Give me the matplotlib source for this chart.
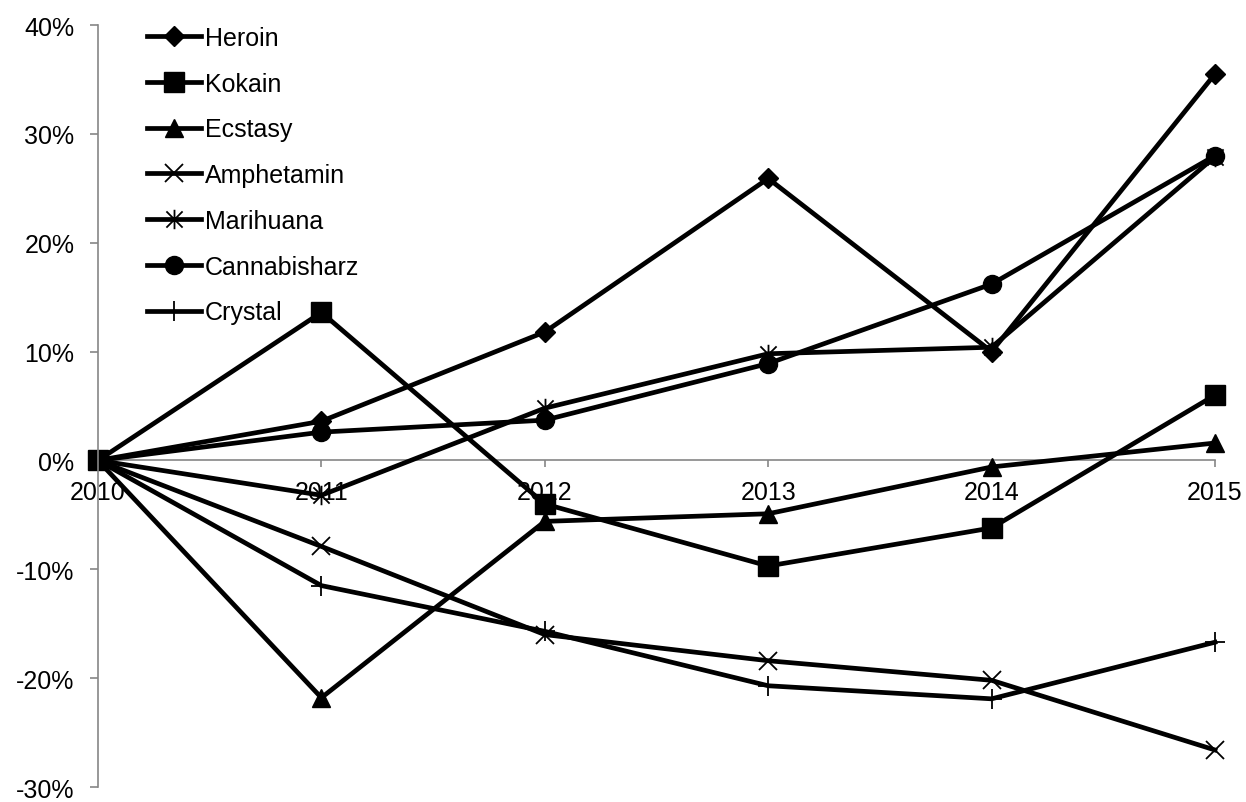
import matplotlib
matplotlib.use("Agg")
import matplotlib.pyplot as plt
from matplotlib.path import Path
from matplotlib.ticker import FuncFormatter

years = [2010, 2011, 2012, 2013, 2014, 2015]
series_names = ["Heroin", "Kokain", "Ecstasy", "Amphetamin", "Marihuana", "Cannabisharz", "Crystal"]
heroin = [0.0, 3.6, 11.8, 25.9, 10.0, 35.5]
kokain = [0.0, 13.6, -4.0, -9.7, -6.2, 6.0]
ecstasy = [0.0, -21.8, -5.6, -4.9, -0.6, 1.6]
amphetamin = [0.0, -7.9, -16.0, -18.4, -20.2, -26.6]
marihuana = [0.0, -3.2, 4.8, 9.8, 10.4, 27.9]
cannabisharz = [0.0, 2.6, 3.7, 8.9, 16.2, 28.0]
crystal = [0.0, -11.5, -15.7, -20.7, -21.9, -16.7]
y_ticks = [-30, -20, -10, 0, 10, 20, 30, 40]

plt.rcParams['font.family'] = ['Liberation Sans', 'DejaVu Sans']

# Excel-style asterisk: x plus vertical line
ast = Path([(-0.5, -0.5), (0.5, 0.5), (-0.5, 0.5), (0.5, -0.5), (0, -0.6), (0, 0.6)],
           [Path.MOVETO, Path.LINETO, Path.MOVETO, Path.LINETO, Path.MOVETO, Path.LINETO])

values = [heroin, kokain, ecstasy, amphetamin, marihuana, cannabisharz, crystal]
styles = [
    dict(marker='D', markersize=10),
    dict(marker='s', markersize=14),
    dict(marker='^', markersize=13),
    dict(marker='x', markersize=13, markeredgewidth=1.3),
    dict(marker=ast, markersize=14, markeredgewidth=1.3),
    dict(marker='o', markersize=13),
    dict(marker='+', markersize=14, markeredgewidth=1.3),
]

fig = plt.figure(figsize=(12.46, 8.03), dpi=100)
ax = fig.add_axes([98/1246, 15/803, (1215-98)/1246, (788-26)/803])

for name, vals, st in zip(series_names, values, styles):
    ax.plot(years, vals, color='black', linewidth=3.4, label=name,
            markerfacecolor='black', markeredgecolor='black', clip_on=False, **st)

ax.set_xlim(2010, 2015)
ax.set_ylim(-30, 40)
ax.set_yticks(y_ticks)
ax.yaxis.set_major_formatter(FuncFormatter(lambda v, p: f"{int(v)}%"))
ax.set_xticks(years)
ax.set_xticklabels([str(y) for y in years])

for s in ['top', 'right']:
    ax.spines[s].set_visible(False)
ax.spines['bottom'].set_position(('data', 0))
ax.spines['bottom'].set_zorder(0)
for s in ['left', 'bottom']:
    ax.spines[s].set_color('#868686')
    ax.spines[s].set_linewidth(1.2)

ax.tick_params(axis='y', direction='out', length=6, width=1.2, color='#868686',
               labelsize=18, pad=11)
ax.tick_params(axis='x', direction='out', length=5, width=1.2, color='#868686',
               labelsize=18, pad=9)

leg = ax.legend(loc='upper left', bbox_to_anchor=(0.035, 1.012), frameon=False,
                fontsize=18, handlelength=2.16, handletextpad=0.15,
                labelspacing=0.87, borderaxespad=0)

fig.savefig("out.png", dpi=100)
